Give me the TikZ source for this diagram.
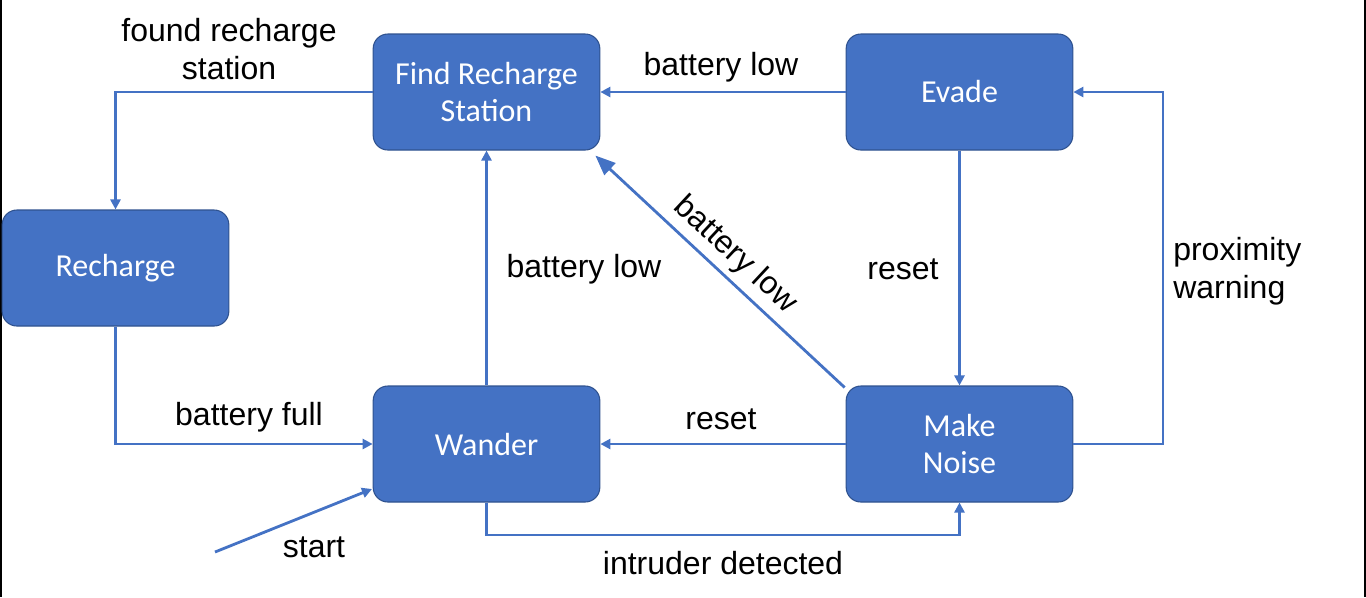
\documentclass[tikz,border=0pt]{standalone}
\usepackage{fontspec}
\setmainfont{Liberation Sans}
\newfontfamily\boxfont{Carlito}
\usetikzlibrary{arrows.meta,calc}
\definecolor{boxfill}{HTML}{4472C4}
\definecolor{boxline}{HTML}{2F528F}
\definecolor{arrowcol}{HTML}{4472C4}
\tikzset{
  state/.style={draw=boxline, line width=0.8pt, fill=boxfill, rounded corners=11pt,
    minimum width=170pt, minimum height=87pt, inner sep=0pt, text=white,
    font=\boxfont\fontsize{24pt}{28pt}\selectfont, align=center},
  conn/.style={draw=arrowcol, line width=2.1pt, -{Triangle[length=7.5pt,width=7.5pt]}},
  bigconn/.style={draw=arrowcol, line width=2.1pt, -{Triangle[length=15pt,width=12pt]}},
  lbl/.style={text=black, font=\fontsize{24pt}{28.5pt}\selectfont, inner sep=0pt},
}
\begin{document}
\begin{tikzpicture}[x=0.75pt,y=-0.75pt]
\useasboundingbox (0,0) rectangle (1366,597);
\draw[black, line width=1.5pt] (0.75,0) -- (0.75,597);
\draw[black, line width=1.5pt] (1365.25,0) -- (1365.25,597);

\node[state] (frs) at (486.5,92) {Find Recharge\\Station};
\node[state] (ev) at (959.5,92) {Evade};
\node[state] (rc) at (115.5,268) {Recharge};
\node[state] (wa) at (486.5,444) {Wander};
\node[state] (mn) at (959.5,444) {Make\\Noise};

% found recharge station
\draw[conn] (frs.west) -| (rc.north);
\node[lbl, align=center] (l1) at (229,49) {found recharge\\station};

% evade -> frs
\draw[conn] (ev.west) -- (frs.east);
\node[lbl] (l2) at (721,67) {battery low};

% recharge -> wander
\draw[conn] (rc.south) |- (wa.west);
\node[lbl] (l3) at (249,417) {battery full};

% wander -> frs
\draw[conn] (wa.north) -- (frs.south);
\node[lbl] (l4) at (584,269) {battery low};

% make noise -> frs diagonal
\coordinate (mnc) at ($(mn.north west)+(-1,2)$);
\coordinate (frsc) at ($(frs.south east)+(-5,5)$);
\draw[bigconn] (mnc) -- (frsc);
\node[lbl, rotate=-43] (l5) at (735,255) {battery low};

% evade -> make noise
\draw[conn] (ev.south) -- (mn.north);
\node[lbl] (l6) at (903,269) {reset};

% make noise -> wander
\draw[conn] (mn.west) -- (wa.east);
\node[lbl] (l7) at (721,419) {reset};

% proximity warning
\coordinate (pw) at (1163,444);
\draw[conn] (mn.east) -- (pw) |- (ev.east);
\node[lbl, align=left, anchor=west] (l8) at (1173,271) {proximity\\warning};

% intruder detected
\coordinate (idl) at (486.5,535);
\coordinate (idr) at (959.5,535);
\draw[conn] (wa.south) -- (idl) -- (idr) -- (mn.south);
\node[lbl] (l9) at (723,563) {intruder detected};

% start
\coordinate (st) at (215,552);
\coordinate (stend) at (372,489);
\draw[conn] (st) -- (stend);
\node[lbl] (l10) at (314,547) {start};
\end{tikzpicture}
\end{document}
